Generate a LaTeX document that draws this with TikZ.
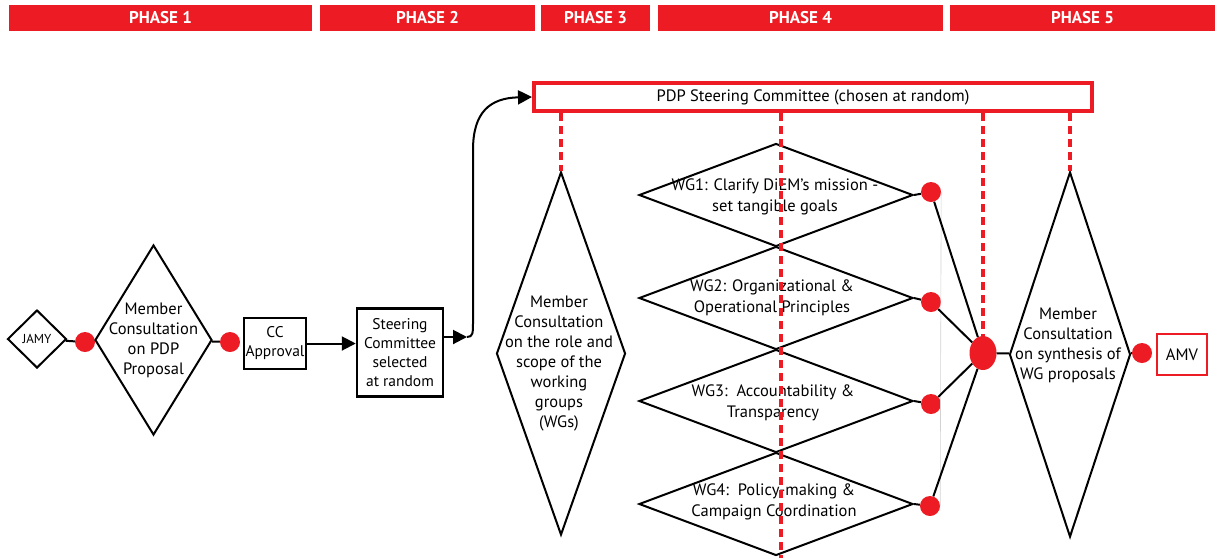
\documentclass[tikz,border=0pt]{standalone}
\usepackage{fontspec}
\setmainfont{PT Sans}
\usepackage{tikz}
\usetikzlibrary{shapes,arrows}
\usetikzlibrary{positioning}
\usetikzlibrary{calc}
\usetikzlibrary{arrows.meta}
\definecolor{diemred}{HTML}{ED1C24}
\tikzset{>=stealth}
\tikzstyle{line} = [draw, line width=2pt, -{Triangle[length=14pt,width=14pt]}]

\begin{document}
\begin{tikzpicture}[x=1pt, y=-1pt,
		phase/.style={fill=diemred, text=white, minimum height=26, inner sep=0pt,
			font=\fontsize{17}{20}\selectfont\bfseries},
		dia/.style={draw, diamond, line width=2pt, inner sep=0pt},
		txt/.style={align=center, inner sep=0pt, font=\fontsize{16.5}{20}\selectfont},
		box/.style={draw, rectangle, line width=2pt, inner sep=0pt, align=center,
			font=\fontsize{15.5}{19}\selectfont},
		dot/.style={circle, fill=diemred, minimum size=20, inner sep=0pt},
		link/.style={draw, line width=2pt},
		redlink/.style={draw=diemred, line width=4pt, dash pattern=on 8pt off 5pt}]
		\useasboundingbox (0,0) rectangle (1218,558);
		%% Phases
		\node [phase, minimum width=303] (ph1) at (160.5,18) {PHASE 1};
		\node [phase, minimum width=215] (ph2) at (427.5,18) {PHASE 2};
		\node [phase, minimum width=109] (ph3) at (595.5,18) {PHASE 3};
		\node [phase, minimum width=285] (ph4) at (800.5,18) {PHASE 4};
		\node [phase, minimum width=265] (ph5) at (1082.5,18) {PHASE 5};
		%% Phase 1
		\node [dia, minimum width=59, minimum height=58] (jamy) at (37,339) {};
		\node [txt, font=\fontsize{13}{16}\selectfont] (jamyt) at (jamy) {JAMY};
		\node [dot] (d1) at (85,342) {};
		\node [dia, minimum width=117, minimum height=190] (mc1) at (153.5,340) {};
		\node [txt] (mc1t) at (mc1) {Member\\Consultation\\on PDP\\Proposal};
		\node [dot] (d2) at (230,342) {};
		\node [box, minimum width=62, minimum height=51] (cc) at (275,343.5) {CC\\Approval};
		%% Phase 2
		\node [box, line width=2.5pt, minimum width=86, minimum height=88] (sc) at (400,352.5)
			{Steering\\Committee\\selected\\at random};
		\coordinate (c1) at (467,337);
		%% Phase 3 and 4
		\node [draw=diemred, line width=4pt, minimum width=558, minimum height=28, inner sep=0pt,
			font=\fontsize{16.5}{20}\selectfont] (pdp) at (813,97) {PDP Steering Committee (chosen at random)};
		\node [dia, minimum width=129, minimum height=363] (mc2) at (561,353.5) {};
		\node [txt] (mc2t) at (559,364) {Member\\Consultation\\on the role and\\scope of the\\working\\groups\\(WGs)};
		\node [dia, minimum width=274, minimum height=103] (wg1) at (776,195) {};
		\node [dia, minimum width=274, minimum height=103] (wg2) at (776,298) {};
		\node [dia, minimum width=274, minimum height=103] (wg3) at (776,401) {};
		\node [dia, minimum width=274, minimum height=103] (wg4) at (776,504) {};
		\node [txt, font=\fontsize{16.5}{21}\selectfont] (wg1t) at (775,197) {WG1: Clarify DiEM’s mission -\\set tangible goals};
		\node [txt, font=\fontsize{16.5}{21}\selectfont] (wg2t) at (772,298) {WG2: Organizational \&\\Operational Principles};
		\node [txt, font=\fontsize{16.5}{21}\selectfont] (wg3t) at (773,403) {WG3:\ \ Accountability \&\\Transparency};
		\node [txt, font=\fontsize{16.5}{21}\selectfont] (wg4t) at (774,502) {WG4:\ \ Policy-making \&\\Campaign Coordination};
		\node [dot] (w1) at (931,192) {};
		\node [dot] (w2) at (931,302) {};
		\node [dot] (w3) at (931,404) {};
		\node [dot] (w4) at (930,506) {};
		\node [ellipse, fill=diemred, minimum width=27, minimum height=34, inner sep=0pt] (hub) at (983,353) {};
		\coordinate (wgend) at (781,558);
		%% Phase 5
		\node [dia, minimum width=121, minimum height=365] (mc3) at (1070,354.5) {};
		\node [txt] (mc3t) at (1068,345) {Member\\Consultation\\on synthesis of\\WG proposals};
		\node [dot] (d4) at (1142,353) {};
		\node [draw=diemred, line width=2.5pt, minimum width=50, minimum height=41, inner sep=0pt,
			font=\fontsize{16.5}{20}\selectfont] (amv) at (1182,354.5) {AMV};
		%% Links
		\path [link] (jamy) -- (d1);
		\path [link] (d1) -- (mc1);
		\path [link] (mc1) -- (d2);
		\path [line] (cc) -- (sc.west |- cc);
		\path [line] (sc.east |- c1) -- (c1);
		\path [line] (c1) .. controls (473,337) and (473,333) .. (473,322) -- (473,150)
			.. controls (473,112) and (490,98) .. (pdp.west);
		\draw [gray!35, line width=0.6pt] (w1.east) -- (w4.east);
		\path [link] (wg1.east) -- (w1);
		\path [link] (wg2.east) -- (w2);
		\path [link] (wg3.east) -- (w3);
		\path [link] (wg4.east) -- (w4);
		\path [link] (w1) -- (hub);
		\path [link] (w2) -- (hub);
		\path [link] (w3) -- (hub);
		\path [link] (w4) -- (hub);
		\path [link] (hub) -- (mc3);
		\path [link] (mc3) -- (d4);
		%% Red dashed links
		\path [redlink] (pdp.south -| mc2.north) -- (mc2.north);
		\path [redlink] (pdp.south -| wgend) -- (wgend);
		\path [redlink] (pdp.south -| hub.north) -- (hub.north);
		\path [redlink] (pdp.south -| mc3.north) -- (mc3.north);
\end{tikzpicture}
\end{document}
